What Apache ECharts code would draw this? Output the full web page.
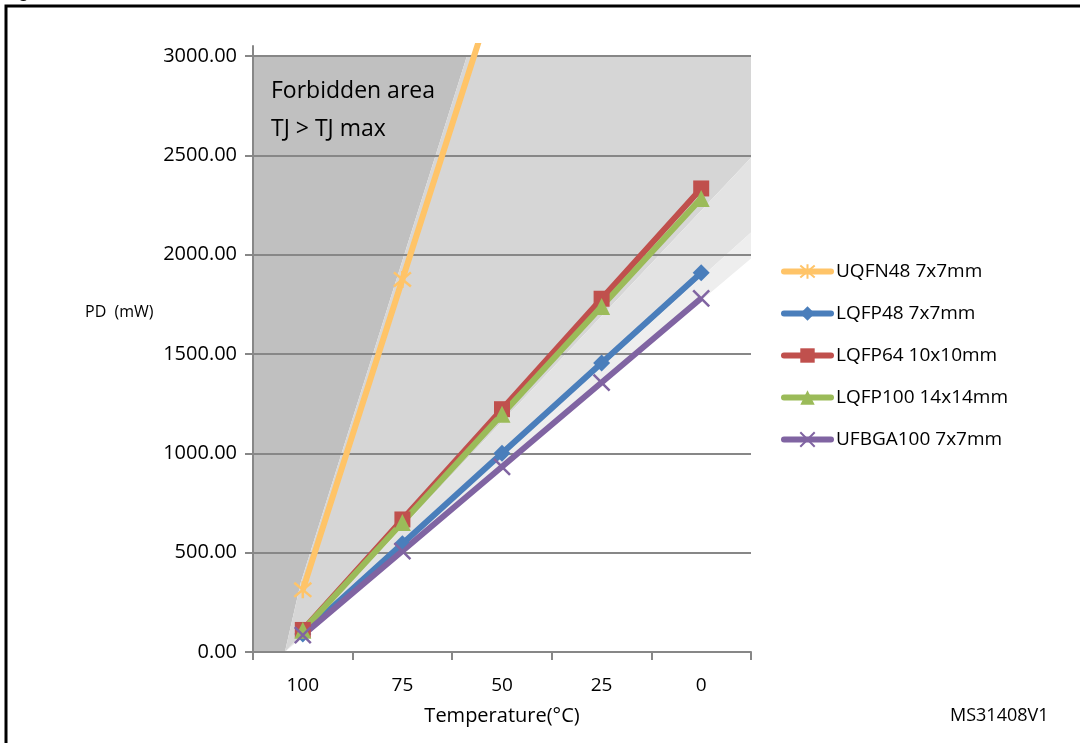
<!doctype html>
<html>
<head>
<meta charset="utf-8">
<title>PD vs temperature</title>
<script src="https://cdn.jsdelivr.net/npm/echarts@6/dist/echarts.min.js"></script>
<style>
  html, body { margin: 0; padding: 0; background: #fff; }
  #chart { width: 1080px; height: 743px; }
</style>
</head>
<body>
<div id="chart"></div>
<script>
// ambient temperature categories (deg C)
var temps = ['100', '75', '50', '25', '0'];
var yTicks = [0, 500, 1000, 1500, 2000, 2500, 3000];

// PD in mW per package
var uqfn48 = [313, 1875, 3438, 5000, 6563];
var lqfp48 = [91, 545, 1000, 1455, 1909];
var lqfp64 = [111, 667, 1222, 1778, 2333];
var lqfp100 = [109, 652, 1196, 1739, 2283];
var ufbga100 = [85, 508, 932, 1356, 1780];

// shaded zones, [temperature, mW]
var zoneDark = [[112.5, 0], [112.5, 3000], [58.8, 3000], [100.5, 350], [104.5, 0]];
var zoneMid = [[104.5, 0], [100.5, 350], [58.8, 3000], [-12.5, 3000], [-12.5, 2487]];
var zoneLight = [[104.5, 0], [-12.5, 2487], [-12.5, 2111]];
var zoneLighter = [[104.5, 0], [-12.5, 2111], [-12.5, 1980]];

var zones = [zoneDark, zoneMid, zoneLight, zoneLighter];
var zoneColors = ['#c0c0c0', '#d6d6d6', '#e3e3e3', '#eeeeee'];

var font = '"Open Sans", "Noto Sans", sans-serif';
var gridGray = '#878787';

var chart = echarts.init(document.getElementById('chart'));

function lineSeries(name, data, color, symbol, size) {
  return {
    name: name,
    type: 'line',
    data: data,
    symbol: symbol,
    symbolSize: size,
    lineStyle: { color: color, width: 6 },
    itemStyle: { color: color, borderColor: color, borderWidth: (symbol.indexOf('path://') === 0 ? 2.5 : 0) },
    emphasis: { disabled: true },
    animation: false
  };
}

var xMark = 'path://M0,0L10,10M10,0L0,10';
var starMark = 'path://M0,0L10,10M10,0L0,10M5,-1L5,11';

var option = {
  animation: false,
  grid: { left: 253, right: 329, top: 46, bottom: 91, containLabel: false },
  legend: {
    orient: 'vertical',
    left: 776,
    top: 257,
    itemWidth: 47,
    itemHeight: 18,
    itemGap: 23,
    lineStyle: { width: 6, cap: 'round' },
    data: ['UQFN48 7x7mm', 'LQFP48 7x7mm', 'LQFP64 10x10mm', 'LQFP100 14x14mm', 'UFBGA100 7x7mm'],
    textStyle: { color: '#000', fontSize: 19, fontFamily: font }
  },
  xAxis: [{
    type: 'category',
    data: temps,
    boundaryGap: true,
    axisLine: { show: true, lineStyle: { color: gridGray, width: 2 } },
    axisTick: { show: true, interval: 0, length: 8, lineStyle: { color: gridGray, width: 2 } },
    axisLabel: { color: '#000', fontSize: 19, fontFamily: font, margin: 24 },
    name: 'Temperature(°C)',
    nameLocation: 'middle',
    nameGap: 54,
    nameTextStyle: { color: '#000', fontSize: 20, fontFamily: font }
  }, {
    type: 'value',
    show: false,
    min: -12.5,
    max: 112.5,
    inverse: true
  }],
  yAxis: {
    type: 'value',
    min: 0,
    max: 3050,
    interval: 500,
    axisLine: { show: true, onZero: false, lineStyle: { color: gridGray, width: 2 } },
    axisTick: { show: true, length: 8, customValues: yTicks, lineStyle: { color: gridGray, width: 2 } },
    axisLabel: {
      customValues: yTicks,
      color: '#000', fontSize: 20, fontFamily: font, margin: 16,
      formatter: function (v) { return v.toFixed(2); }
    },
    splitLine: { show: true, lineStyle: { color: gridGray, width: 2 } }
  },
  graphic: [
    { type: 'rect', shape: { x: 6, y: 6, width: 1200, height: 900 }, style: { fill: null, stroke: '#000', lineWidth: 3 }, silent: true },
    { type: 'text', left: 2, top: -17, style: { text: 'Figure', font: 'bold 18px "Liberation Sans", sans-serif', fill: '#000' }, silent: true },
    { type: 'text', left: 271, top: 72, z: 10, style: { text: 'Forbidden area\nTJ > TJ max', font: '23px ' + font, fill: '#000', lineHeight: 38 }, silent: true },
    { type: 'text', left: 85, top: 304, style: { text: 'PD  (mW)', font: '16px ' + font, fill: '#000' }, silent: true },
    { type: 'text', left: 950, top: 707, style: { text: 'MS31408V1', font: '18px ' + font, fill: '#000' }, silent: true }
  ],
  series: [
    {
      type: 'custom',
      name: 'zones',
      xAxisIndex: 1,
      yAxisIndex: 0,
      z: -1,
      silent: true,
      animation: false,
      data: zones.map(function (z, i) { return [i, 0]; }),
      renderItem: function (params, api) {
        var poly = zones[params.dataIndex];
        var pts = poly.map(function (p) { return api.coord(p); });
        return {
          type: 'polygon',
          shape: { points: pts },
          style: { fill: zoneColors[params.dataIndex], stroke: null }
        };
      }
    },
    lineSeries('UQFN48 7x7mm', uqfn48, '#ffc468', starMark, 17),
    lineSeries('LQFP48 7x7mm', lqfp48, '#4a7ebb', 'diamond', 17),
    lineSeries('LQFP64 10x10mm', lqfp64, '#c0504d', 'rect', 16),
    lineSeries('LQFP100 14x14mm', lqfp100, '#9bbb59', 'triangle', 17),
    lineSeries('UFBGA100 7x7mm', ufbga100, '#8064a2', xMark, 16)
  ]
};

chart.setOption(option);
</script>
</body>
</html>
